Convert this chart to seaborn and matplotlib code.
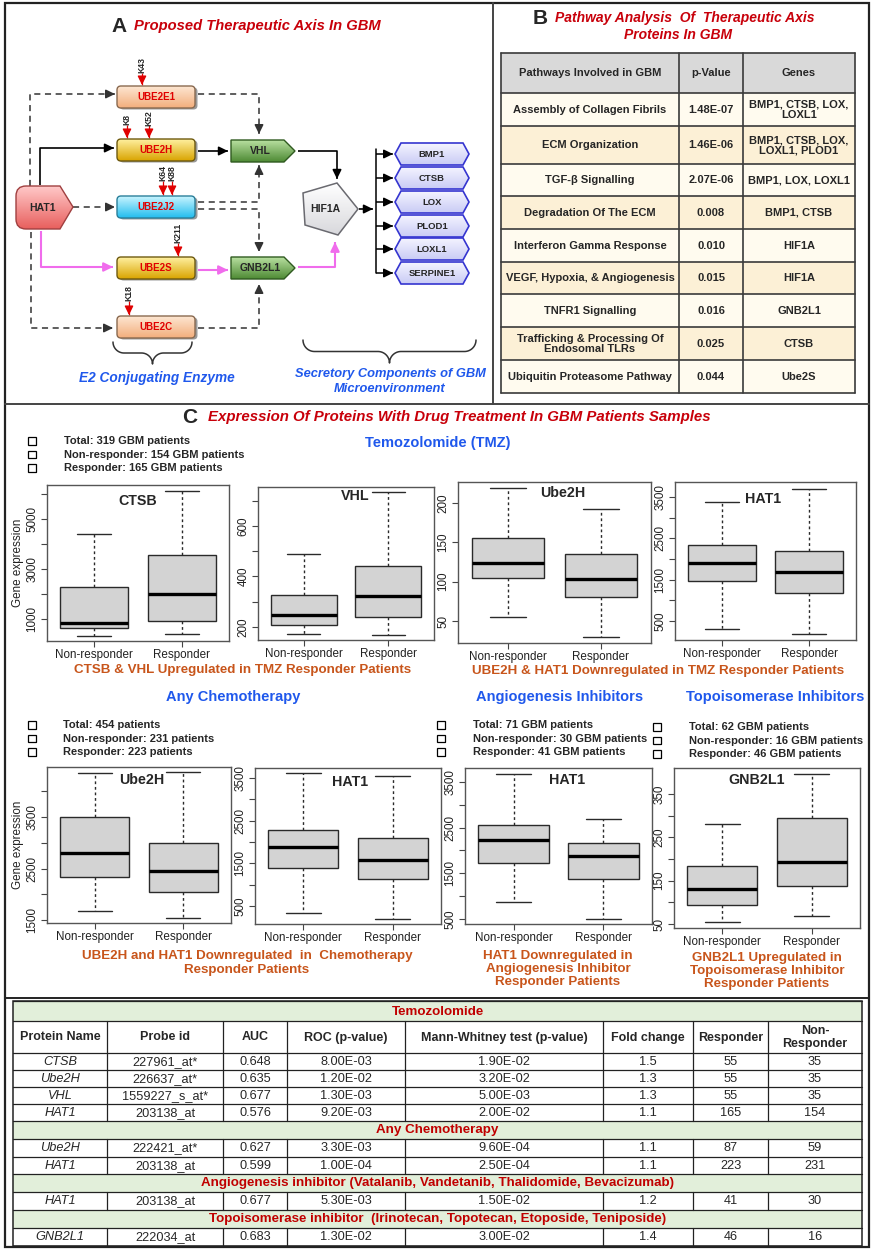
import numpy as np
import pandas as pd
import seaborn as sns
import matplotlib.pyplot as plt
from matplotlib.patches import Rectangle, Polygon, FancyBboxPatch, PathPatch
from matplotlib.path import Path
from matplotlib.colors import LinearSegmentedColormap

W, H = 872, 1249

sns.set_theme(style="white")
plt.rcParams["font.family"] = ["Liberation Sans", "DejaVu Sans"]

# box plot values: [low whisker, Q1, median, Q3, high whisker]
groups = ["Non-responder", "Responder"]
ctsb_tmz_nr = [320, 640, 840, 2280, 4400]
ctsb_tmz_r = [400, 920, 2000, 3560, 6120]
vhl_tmz_nr = [172, 208, 248, 327, 489]
vhl_tmz_r = [168, 240, 323, 440, 736]
ube2h_tmz_nr = [55, 105, 124, 156, 219]
ube2h_tmz_r = [30, 80, 104, 135, 192]
hat1_tmz_nr = [306, 1475, 1910, 2330, 3380]
hat1_tmz_r = [185, 1175, 1690, 2200, 3700]
ube2h_chemo_nr = [1675, 2335, 2800, 3500, 4350]
ube2h_chemo_r = [1540, 2040, 2450, 2990, 4370]
hat1_chemo_nr = [330, 1390, 1880, 2280, 3615]
hat1_chemo_r = [190, 1130, 1580, 2100, 3550]
hat1_angio_nr = [872, 1725, 2230, 2560, 3675]
hat1_angio_r = [500, 1380, 1880, 2160, 2700]
gnb2l1_topo_nr = [55, 94, 131, 184, 281]
gnb2l1_topo_r = [69, 138, 193, 295, 396]

tmz_counts = ["Total: 319 GBM patients", "Non-responder: 154 GBM patients", "Responder: 165 GBM patients"]
chemo_counts = ["Total: 454 patients", "Non-responder: 231 patients", "Responder: 223 patients"]
angio_counts = ["Total: 71 GBM patients", "Non-responder: 30 GBM patients", "Responder: 41 GBM patients"]
topo_counts = ["Total: 62 GBM patients", "Non-responder: 16 GBM patients", "Responder: 46 GBM patients"]

# panel B table
pathways = ["Assembly of Collagen Fibrils", "ECM Organization", "TGF-β Signalling",
            "Degradation Of The ECM", "Interferon Gamma Response", "VEGF, Hypoxia, & Angiogenesis",
            "TNFR1 Signalling", "Trafficking & Processing Of\nEndosomal TLRs", "Ubiquitin Proteasome Pathway"]
p_values = ["1.48E-07", "1.46E-06", "2.07E-06", "0.008", "0.010", "0.015", "0.016", "0.025", "0.044"]
genes = ["BMP1, CTSB, LOX,\nLOXL1", "BMP1, CTSB, LOX,\nLOXL1, PLOD1", "BMP1, LOX, LOXL1", "BMP1, CTSB",
         "HIF1A", "HIF1A", "GNB2L1", "CTSB", "Ube2S"]

# bottom table
table_cols = ["Protein Name", "Probe id", "AUC", "ROC (p-value)", "Mann-Whitney test (p-value)",
              "Fold change", "Responder", "Non-\nResponder"]
sections = ["Temozolomide", "Any Chemotherapy",
            "Angiogenesis inhibitor (Vatalanib, Vandetanib, Thalidomide, Bevacizumab)",
            "Topoisomerase inhibitor  (Irinotecan, Topotecan, Etoposide, Teniposide)"]
tmz_rows = [["CTSB", "227961_at*", "0.648", "8.00E-03", "1.90E-02", "1.5", "55", "35"],
            ["Ube2H", "226637_at*", "0.635", "1.20E-02", "3.20E-02", "1.3", "55", "35"],
            ["VHL", "1559227_s_at*", "0.677", "1.30E-03", "5.00E-03", "1.3", "55", "35"],
            ["HAT1", "203138_at", "0.576", "9.20E-03", "2.00E-02", "1.1", "165", "154"]]
chemo_rows = [["Ube2H", "222421_at*", "0.627", "3.30E-03", "9.60E-04", "1.1", "87", "59"],
              ["HAT1", "203138_at", "0.599", "1.00E-04", "2.50E-04", "1.1", "223", "231"]]
angio_rows = [["HAT1", "203138_at", "0.677", "5.30E-03", "1.50E-02", "1.2", "41", "30"]]
topo_rows = [["GNB2L1", "222034_at", "0.683", "1.30E-02", "3.00E-02", "1.4", "46", "16"]]

RED = "#C8000A"
BLUE = "#1F58EC"
ORANGE = "#C8551B"
DARK = "#333333"

fig = plt.figure(figsize=(W / 100, H / 100), dpi=100)
ax0 = fig.add_axes([0, 0, 1, 1])
ax0.set_xlim(0, W)
ax0.set_ylim(H, 0)
ax0.axis("off")


def grad_shape(patch_fn, bounds, c_top, c_bot, ec, lw=1.0):
    fill = patch_fn()
    fill.set_facecolor(c_bot)
    fill.set_edgecolor("none")
    fill.set_zorder(3)
    ax0.add_patch(fill)
    x0, y0, x1, y1 = bounds
    cmap = LinearSegmentedColormap.from_list("g", [c_top, c_bot])
    im = ax0.imshow(np.linspace(0, 1, 64).reshape(-1, 1), cmap=cmap, extent=(x0, x1, y1, y0),
                    origin="upper", aspect="auto", zorder=3.1, interpolation="bilinear")
    im.set_clip_path(fill)
    edge = patch_fn()
    edge.set_facecolor("none")
    edge.set_edgecolor(ec)
    edge.set_linewidth(lw)
    edge.set_zorder(3.2)
    ax0.add_patch(edge)


def arrow(pts, color=DARK, ls="-", lw=1.1):
    xs = [p[0] for p in pts]
    ys = [p[1] for p in pts]
    ax0.plot(xs, ys, color=color, ls=ls, lw=lw, zorder=1, solid_capstyle="butt")
    (xa, ya), (xb, yb) = pts[-2], pts[-1]
    d = np.hypot(xb - xa, yb - ya)
    xt, yt = xb - (xb - xa) / d * 5, yb - (yb - ya) / d * 5
    ax0.annotate("", xy=(xb, yb), xytext=(xt, yt),
                 arrowprops=dict(arrowstyle="-|>,head_length=0.45,head_width=0.22", color=color,
                                 lw=lw, shrinkA=0, shrinkB=0), zorder=2)


def brace(x0, x1, y, r, color=DARK):
    xm = (x0 + x1) / 2
    t = np.linspace(0, np.pi / 2, 20)
    end = np.c_[x0 + r - r * np.cos(t), y + r * np.sin(t)]
    mid = np.c_[xm - r + r * np.sin(t), y + r + r * (1 - np.cos(t))]
    left = np.vstack([end, mid])
    right = np.c_[2 * xm - left[::-1, 0], left[::-1, 1]]
    pts = np.vstack([left, right])
    ax0.plot(pts[:, 0], pts[:, 1], color=color, lw=1.1, zorder=2)


# ---------------- frame ----------------
ax0.add_patch(Rectangle((5, 3), 864, 1244, fc="none", ec="#222222", lw=1.6, zorder=6))
ax0.plot([5, 869], [404, 404], color="#444444", lw=1.4, zorder=6)
ax0.plot([493, 493], [3, 404], color="#444444", lw=1.4, zorder=6)
ax0.plot([5, 869], [998, 998], color="#222222", lw=1.4, zorder=6)

# ---------------- panel A ----------------
ax0.text(119, 26, "A", fontsize=15, fontweight="bold", ha="center", va="center")
ax0.text(134, 26, "Proposed Therapeutic Axis In GBM", fontsize=10.6, fontweight="bold",
         fontstyle="italic", color=RED, ha="left", va="center")

dash = (0, (4, 3))
arrow([(30, 186), (30, 94), (115, 94)], ls=dash)
arrow([(73, 207), (115, 207)], ls=dash)
arrow([(31, 232), (31, 328), (113, 328)], ls=dash)
arrow([(198, 94), (259, 94), (259, 134)], ls=dash)
arrow([(198, 202), (259, 202), (259, 165)], ls=dash)
arrow([(198, 209), (259, 209), (259, 252)], ls=dash)
arrow([(198, 328), (259, 328), (259, 284)], ls=dash)
arrow([(40, 185), (40, 148), (114, 148)], color="black", lw=1.2)
arrow([(198, 151), (228, 151)], color="black", lw=1.2)
arrow([(298, 151), (337, 151), (337, 179)], color="black", lw=1.2)
arrow([(359, 209), (373, 209)], color="black", lw=1.2)
PINK = "#F06CEC"
arrow([(41, 231), (41, 267), (113, 267)], color=PINK, lw=1.5)
arrow([(198, 270), (228, 270)], color=PINK, lw=1.5)
arrow([(298, 267), (335, 267), (335, 242)], color=PINK, lw=1.5)

e2_boxes = [("UBE2E1", 86, "#FDE6D2", "#F3AE7C", "#8A6A50"),
            ("UBE2H", 139, "#FFF0A0", "#D9A400", "#6E5A10"),
            ("UBE2J2", 196, "#C8F4FF", "#22BDEE", "#2A7F9A"),
            ("UBE2S", 257, "#FFF0A0", "#D9A400", "#6E5A10"),
            ("UBE2C", 316, "#FDE6D2", "#F3AE7C", "#8A6A50")]
for name, y0, ct, cb, ec in e2_boxes:
    ax0.add_patch(FancyBboxPatch((119.5, y0 + 1.5), 78, 22, boxstyle="round,pad=0,rounding_size=4",
                                 fc="#9A9A9A", ec="none", zorder=2.9))
    grad_shape(lambda y0=y0: FancyBboxPatch((117, y0), 78, 22, boxstyle="round,pad=0,rounding_size=4"),
               (117, y0, 195, y0 + 22), ct, cb, ec)
    ax0.text(156, y0 + 11, name, fontsize=7, fontweight="bold", color="#E00000",
             ha="center", va="center", zorder=5)

k_sites = [("K43", 142, 65, 73, 85), ("K8", 127, 119, 125, 138), ("K52", 149, 118, 125, 138),
           ("K64", 163, 173, 181, 195), ("K88", 172, 173, 181, 195), ("K211", 178, 233, 243, 256),
           ("K18", 129, 293, 301, 315)]
for lab, x, ly, ya, yb in k_sites:
    ax0.text(x, ly, lab, fontsize=6.2, fontweight="bold", rotation=90, ha="center", va="center", zorder=5)
    arrow([(x, ya), (x, yb)], color="#E00000", lw=0.9)


# HAT1
def hat1_patch():
    verts = [(26, 186), (60, 186), (73, 207), (60, 229), (26, 229), (16, 229), (16, 219),
             (16, 196), (16, 186), (26, 186), (26, 186)]
    codes = [Path.MOVETO, Path.LINETO, Path.LINETO, Path.LINETO, Path.LINETO, Path.CURVE3, Path.CURVE3,
             Path.LINETO, Path.CURVE3, Path.CURVE3, Path.CLOSEPOLY]
    return PathPatch(Path(verts, codes))


grad_shape(hat1_patch, (16, 186, 73, 229), "#FFC8C8", "#E8605E", "#A04040")
ax0.text(42, 207.5, "HAT1", fontsize=7.5, fontweight="bold", ha="center", va="center", zorder=5)

for name, y0 in [("VHL", 140), ("GNB2L1", 257)]:
    grad_shape(lambda y0=y0: Polygon([(231, y0), (284, y0), (295, y0 + 11), (284, y0 + 22), (231, y0 + 22)]),
               (231, y0, 295, y0 + 22), "#B8E0A0", "#4E8A34", "#2F5A20")
    ax0.text(260, y0 + 11, name, fontsize=7.5, fontweight="bold", ha="center", va="center", zorder=5)

grad_shape(lambda: Polygon([(337, 183), (358, 209), (338, 235), (305, 225), (303, 193)]),
           (303, 183, 358, 235), "#FFFFFF", "#D8D8DC", "#6A6A70", lw=1.1)
ax0.text(325, 209, "HIF1A", fontsize=7.5, fontweight="bold", ha="center", va="center", zorder=5)

targets = ["BMP1", "CTSB", "LOX", "PLOD1", "LOXL1", "SERPINE1"]
target_y = [143, 167, 191, 215, 238, 262]
ax0.plot([376, 376], [149, 273], color="black", lw=1.1, zorder=1)
for name, y0 in zip(targets, target_y):
    yc = y0 + 11
    arrow([(376, yc), (393, yc)], color="black", lw=1.1)
    grad_shape(lambda y0=y0: Polygon([(395, y0 + 11), (401, y0), (463, y0), (469, y0 + 11),
                                      (463, y0 + 22), (401, y0 + 22)]),
               (395, y0, 469, y0 + 22), "#F4F4FF", "#C9CBF5", "#3535D0", lw=1.2)
    ax0.text(432, yc, name, fontsize=6.8, fontweight="bold", ha="center", va="center", zorder=5)

brace(113, 192, 342, 11)
brace(303, 476, 340, 11.5)
ax0.text(157, 378, "E2 Conjugating Enzyme", fontsize=9.8, fontweight="bold", fontstyle="italic",
         color=BLUE, ha="center", va="center")
ax0.text(390, 374, "Secretory Components of GBM", fontsize=9.3, fontweight="bold", fontstyle="italic",
         color=BLUE, ha="center", va="center")
ax0.text(390, 389, "Microenvironment", fontsize=9.3, fontweight="bold", fontstyle="italic",
         color=BLUE, ha="center", va="center")

# ---------------- panel B ----------------
ax0.text(540, 18, "B", fontsize=15, fontweight="bold", ha="center", va="center")
ax0.text(555, 18, "Pathway Analysis  Of  Therapeutic Axis", fontsize=10, fontweight="bold",
         fontstyle="italic", color=RED, ha="left", va="center")
ax0.text(678, 35, "Proteins In GBM", fontsize=10, fontweight="bold", fontstyle="italic",
         color=RED, ha="center", va="center")

bx = [501, 679, 743, 855]
by = [53, 93, 126, 164, 196, 229, 262, 294, 327, 360, 393]
ax0.add_patch(Rectangle((bx[0], by[0]), bx[-1] - bx[0], by[1] - by[0], fc="#D9D9D9", ec="none", zorder=2))
for i in range(len(pathways)):
    fc = "#FFFBEF" if i % 2 == 0 else "#FCF0D6"
    ax0.add_patch(Rectangle((bx[0], by[i + 1]), bx[-1] - bx[0], by[i + 2] - by[i + 1], fc=fc, ec="none", zorder=2))
for y in by:
    ax0.plot([bx[0], bx[-1]], [y, y], color="#3A3A3A", lw=1.2, zorder=3)
for x in bx:
    ax0.plot([x, x], [by[0], by[-1]], color="#3A3A3A", lw=1.2, zorder=3)
header_b = ["Pathways Involved in GBM", "p-Value", "Genes"]
for j, txt in enumerate(header_b):
    ax0.text((bx[j] + bx[j + 1]) / 2, (by[0] + by[1]) / 2, txt, fontsize=8, fontweight="bold",
             ha="center", va="center", zorder=5)
for i in range(len(pathways)):
    yc = (by[i + 1] + by[i + 2]) / 2
    for j, txt in enumerate([pathways[i], p_values[i], genes[i]]):
        ax0.text((bx[j] + bx[j + 1]) / 2, yc, txt, fontsize=8, fontweight="bold", ha="center",
                 va="center", linespacing=1.0, zorder=5)

# ---------------- panel C ----------------
ax0.text(190, 417, "C", fontsize=15, fontweight="bold", ha="center", va="center")
ax0.text(208, 417, "Expression Of Proteins With Drug Treatment In GBM Patients Samples", fontsize=10.8,
         fontweight="bold", fontstyle="italic", color=RED, ha="left", va="center")

for txt, x, y in [("Temozolomide (TMZ)", 438, 443), ("Any Chemotherapy", 233, 697),
                  ("Angiogenesis Inhibitors", 560, 697), ("Topoisomerase Inhibitors", 775, 697)]:
    ax0.text(x, y, txt, fontsize=10.5, fontweight="bold", color=BLUE, ha="center", va="center")


def count_list(lines, xb, xt, y0, dy=13.5):
    for k, line in enumerate(lines):
        y = y0 + k * dy
        ax0.add_patch(Rectangle((xb - 2.6, y - 2.6), 7.5, 7.5, fc="black", ec="none", zorder=4))
        ax0.add_patch(Rectangle((xb - 4, y - 4), 7.5, 7.5, fc="white", ec="black", lw=0.9, zorder=4.1))
        ax0.text(xt, y, line, fontsize=8, fontweight="bold", ha="left", va="center", zorder=5)


count_list(tmz_counts, 32, 64, 441)
count_list(chemo_counts, 32, 63, 725)
count_list(angio_counts, 441, 473, 725)
count_list(topo_counts, 657, 689, 727)

captions = [("CTSB & VHL Upregulated in TMZ Responder Patients", 243, 670),
            ("UBE2H & HAT1 Downregulated in TMZ Responder Patients", 658, 671),
            ("UBE2H and HAT1 Downregulated  in  Chemotherapy\nResponder Patients", 247, 963),
            ("HAT1 Downregulated in\nAngiogenesis Inhibitor\nResponder Patients", 558, 969),
            ("GNB2L1 Upregulated in\nTopoisomerase Inhibitor\nResponder Patients", 767, 971)]
for txt, x, y in captions:
    ax0.text(x, y, txt, fontsize=9.6, fontweight="bold", color=ORANGE, ha="center", va="center",
             linespacing=1.15)

panels = [
    (ctsb_tmz_nr, ctsb_tmz_r, (47, 485, 229, 641), (120, 6360), range(1000, 6001, 1000), [1000, 3000, 5000], "CTSB", (0.5, 0.9), True),
    (vhl_tmz_nr, vhl_tmz_r, (258, 487, 434, 640), (148, 754), range(200, 701, 100), [200, 400, 600], "VHL", (0.55, 0.94), False),
    (ube2h_tmz_nr, ube2h_tmz_r, (458, 482, 651, 643), (22, 227), range(50, 201, 50), [50, 100, 150, 200], "Ube2H", (0.544, 0.93), False),
    (hat1_tmz_nr, hat1_tmz_r, (675, 482, 856, 640), (40, 3863), range(500, 3501, 500), [500, 1500, 2500, 3500], "HAT1", (0.486, 0.89), False),
    (ube2h_chemo_nr, ube2h_chemo_r, (47, 767, 231, 923), (1442, 4471), range(1500, 4001, 500), [1500, 2500, 3500], "Ube2H", (0.516, 0.915), True),
    (hat1_chemo_nr, hat1_chemo_r, (255, 768, 441, 924), (78, 3734), range(500, 3501, 500), [500, 1500, 2500, 3500], "HAT1", (0.51, 0.91), False),
    (hat1_angio_nr, hat1_angio_r, (465, 768, 652, 924), (390, 3806), range(500, 3501, 500), [500, 1500, 2500, 3500], "HAT1", (0.545, 0.92), False),
    (gnb2l1_topo_nr, gnb2l1_topo_r, (674, 768, 860, 928), (41, 410), range(50, 351, 50), [50, 150, 250, 350], "GNB2L1", (0.446, 0.925), False),
]

for nr, r, (x0, y0, x1, y1), ylim, ticks, labeled, title, tpos, show_ylab in panels:
    ax = fig.add_axes([x0 / W, 1 - y1 / H, (x1 - x0) / W, (y1 - y0) / H])
    df = pd.DataFrame({"group": np.repeat(groups, 5), "value": nr + r})
    sns.boxplot(data=df, x="group", y="value", order=groups, ax=ax, whis=(0, 100), width=0.78,
                color="#D3D3D3", saturation=1, linecolor="#2A2A2A", linewidth=1.0, showfliers=False,
                medianprops=dict(color="black", linewidth=2.4),
                whiskerprops=dict(linestyle=(0, (2, 2)), linewidth=1.0),
                capprops=dict(linewidth=1.0))
    ax.set_xlim(-0.54, 1.54)
    ax.set_ylim(*ylim)
    ticks = list(ticks)
    ax.set_yticks(ticks)
    ax.set_yticklabels([str(t) if t in labeled else "" for t in ticks], rotation=90, va="center")
    ax.tick_params(axis="both", left=True, bottom=True, length=4, width=0.8, color="#444444",
                   labelsize=8.4, pad=2, labelcolor="#222222")
    ax.set_xlabel("")
    ax.set_ylabel("Gene expression" if show_ylab else "", fontsize=8.4, labelpad=2, color="#222222")
    for s in ax.spines.values():
        s.set_color("#555555")
        s.set_linewidth(1.0)
    ax.text(tpos[0], tpos[1], title, transform=ax.transAxes, fontsize=10.3, fontweight="bold",
            ha="center", va="center")

# ---------------- bottom table ----------------
tx = [13, 107, 223, 287, 405, 603, 693, 768, 862]
GREEN = "#E2EFDA"
y = 1001
layout = [("band", 0, 20), ("head", None, 32)]
layout += [("row", rw, 17) for rw in tmz_rows]
layout += [("band", 1, 18)] + [("row", rw, 17.5) for rw in chemo_rows]
layout += [("band", 2, 17.5)] + [("row", rw, 18) for rw in angio_rows]
layout += [("band", 3, 18)] + [("row", rw, 18) for rw in topo_rows]
for kind, item, h in layout:
    yc = y + h / 2
    if kind == "band":
        ax0.add_patch(Rectangle((tx[0], y), tx[-1] - tx[0], h, fc=GREEN, ec="none", zorder=2))
        ax0.text((tx[0] + tx[-1]) / 2, yc + 0.5, sections[item], fontsize=9.6, fontweight="bold",
                 color="#C00000", ha="center", va="center", zorder=5)
    else:
        cells = table_cols if kind == "head" else item
        for j, txt in enumerate(cells):
            ax0.text((tx[j] + tx[j + 1]) / 2, yc + 0.5, txt, fontsize=9.2 if kind == "row" else 9.0,
                     fontweight="bold" if kind == "head" else "normal",
                     fontstyle="italic" if (kind == "row" and j == 0) else "normal",
                     ha="center", va="center", linespacing=1.1, zorder=5)
        for x in tx[1:-1]:
            ax0.plot([x, x], [y, y + h], color="#222222", lw=0.9, zorder=3)
    ax0.plot([tx[0], tx[-1]], [y, y], color="#222222", lw=0.9, zorder=3)
    y += h
ax0.plot([tx[0], tx[-1]], [y, y], color="#222222", lw=0.9, zorder=3)
ax0.add_patch(Rectangle((tx[0], 1001), tx[-1] - tx[0], y - 1001, fc="none", ec="#222222", lw=1.1, zorder=3))

ax0.set_xlim(0, W)
ax0.set_ylim(H, 0)
fig.savefig("out.png", dpi=100)
